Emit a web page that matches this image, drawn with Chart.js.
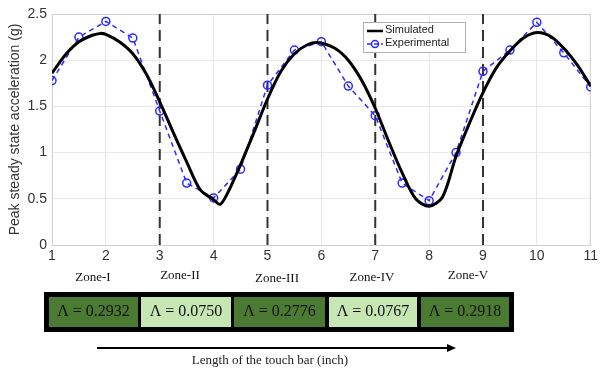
<!DOCTYPE html>
<html>
<head>
<meta charset="utf-8">
<script src="https://cdn.jsdelivr.net/npm/chart.js@4"></script>
<style>
  body { margin: 0; background: #fff; }
  #wrap { width: 601px; height: 369px; position: relative; }
</style>
</head>
<body>
<div id="wrap"><canvas id="myChart" width="601" height="369"></canvas></div>
<script>
// simulated curve
var simX = [1, 1.25, 1.5, 1.75, 1.9, 2, 2.25, 2.5, 2.75, 3, 3.25, 3.5, 3.75, 4, 4.12, 4.25, 4.5, 4.75, 5,
            5.25, 5.5, 5.75, 5.95, 6.25, 6.5, 6.75, 7, 7.25, 7.5, 7.75, 8, 8.25, 8.5, 8.75, 9,
            9.25, 9.5, 9.75, 10, 10.25, 10.5, 10.75, 11];
var simY = [1.86, 2.06, 2.20, 2.27, 2.29, 2.28, 2.20, 2.07, 1.85, 1.55, 1.22, 0.90, 0.60, 0.49, 0.44, 0.55, 0.87, 1.22, 1.58,
            1.88, 2.07, 2.17, 2.19, 2.13, 2.00, 1.78, 1.48, 1.12, 0.78, 0.50, 0.42, 0.52, 0.96, 1.32, 1.65,
            1.92, 2.10, 2.24, 2.30, 2.26, 2.13, 1.95, 1.72];

// experimental points
var expX = [1, 1.5, 2, 2.5, 3, 3.5, 4, 4.5, 5, 5.5, 6, 6.5, 7, 7.5, 8, 8.5, 9, 9.5, 10, 10.5, 11];
var expY = [1.78, 2.25, 2.42, 2.24, 1.45, 0.67, 0.51, 0.82, 1.73, 2.11, 2.20, 1.72, 1.40, 0.67, 0.48, 1.00, 1.88, 2.11, 2.41, 2.08, 1.71];

// zone boundaries
var zoneEdges = [3, 5, 7, 9];
var zoneNames = ['Zone-I', 'Zone-II', 'Zone-III', 'Zone-IV', 'Zone-V'];
var zoneLambda = ['0.2932', '0.0750', '0.2776', '0.0767', '0.2918'];
var zoneShade = ['#4b7a32', '#c6e6b3', '#4b7a32', '#c6e6b3', '#4b7a32'];

var yTicks = [0, 0.5, 1, 1.5, 2, 2.5];

function toPts(xs, ys) {
  return xs.map(function(x, i) { return {x: x, y: ys[i]}; });
}

var datasets = [];
datasets.push({
  label: 'Simulated',
  data: toPts(simX, simY),
  borderColor: '#000',
  borderWidth: 3,
  pointRadius: 0,
  showLine: true,
  tension: 0.3
});
datasets.push({
  label: 'Experimental',
  data: toPts(expX, expY),
  borderColor: '#2b2bff',
  borderWidth: 1.5,
  borderDash: [5, 4],
  pointRadius: 4,
  pointBorderWidth: 1.5,
  pointBackgroundColor: 'rgba(0,0,0,0)',
  pointBorderColor: '#2b2bff',
  showLine: true
});
zoneEdges.forEach(function(e) {
  datasets.push({
    label: 'edge',
    data: [{x: e, y: 0}, {x: e, y: 2.5}],
    borderColor: '#333',
    borderWidth: 2,
    borderDash: [11, 6],
    pointRadius: 0,
    showLine: true
  });
});

var extras = {
  id: 'extras',
  beforeDatasetsDraw: function(chart) {
    var a = chart.chartArea, ctx = chart.ctx;
    ctx.save();
    ctx.strokeStyle = '#d0d0d0';
    ctx.lineWidth = 1;
    ctx.strokeRect(a.left + 0.5, a.top + 0.5, a.right - a.left - 1, a.bottom - a.top);
    ctx.restore();
  },
  afterDraw: function(chart) {
    var ctx = chart.ctx;
    ctx.save();
    // legend box
    ctx.fillStyle = '#fff';
    ctx.fillRect(363, 22, 103, 30);
    ctx.strokeStyle = '#b0b0b0';
    ctx.lineWidth = 1;
    ctx.strokeRect(363.5, 22.5, 102, 30);
    ctx.strokeStyle = '#000';
    ctx.lineWidth = 2.5;
    ctx.beginPath(); ctx.moveTo(367, 31); ctx.lineTo(383, 31); ctx.stroke();
    ctx.strokeStyle = '#2b2bff';
    ctx.lineWidth = 1.5;
    ctx.setLineDash([4, 3]);
    ctx.beginPath(); ctx.moveTo(367, 44); ctx.lineTo(383, 44); ctx.stroke();
    ctx.setLineDash([]);
    ctx.beginPath(); ctx.arc(375, 44, 3.5, 0, Math.PI * 2); ctx.stroke();
    ctx.fillStyle = '#222';
    ctx.font = '11px "Liberation Sans", Arial, sans-serif';
    ctx.textBaseline = 'middle';
    ctx.textAlign = 'left';
    ctx.fillText('Simulated', 385, 30);
    ctx.fillText('Experimental', 385, 43);

    // zone labels
    var zoneX = [93, 180, 277, 372, 468];
    var zoneY = [278, 276, 279, 278, 276];
    ctx.fillStyle = '#111';
    ctx.font = '13px "Liberation Serif", "DejaVu Serif", serif';
    ctx.textAlign = 'center';
    zoneNames.forEach(function(n, i) { ctx.fillText(n, zoneX[i], zoneY[i]); });

    // lambda table
    ctx.fillStyle = '#000';
    ctx.fillRect(44, 292, 470, 40);
    var cellL = [49, 141, 234, 329, 421];
    var cellW = [89, 90, 91, 88, 88];
    ctx.font = '16px "Liberation Serif", "DejaVu Serif", serif';
    zoneLambda.forEach(function(v, i) {
      ctx.fillStyle = zoneShade[i];
      ctx.fillRect(cellL[i], 297, cellW[i], 30);
      ctx.fillStyle = '#111';
      ctx.fillText('\u039B = ' + v, cellL[i] + cellW[i] / 2, 312);
    });

    // arrow
    ctx.strokeStyle = '#000';
    ctx.lineWidth = 2;
    ctx.beginPath(); ctx.moveTo(97, 348); ctx.lineTo(450, 348); ctx.stroke();
    ctx.fillStyle = '#000';
    ctx.beginPath(); ctx.moveTo(456, 348); ctx.lineTo(447, 344); ctx.lineTo(447, 352); ctx.closePath(); ctx.fill();
    ctx.fillStyle = '#222';
    ctx.font = '13px "Liberation Serif", "DejaVu Serif", serif';
    ctx.fillText('Length of the touch bar (inch)', 270, 361);
    ctx.restore();
  }
};

var ctx = document.getElementById('myChart').getContext('2d');
var chart = new Chart(ctx, {
  type: 'scatter',
  data: { datasets: datasets },
  plugins: [extras],
  options: {
    responsive: false,
    animation: false,
    layout: { padding: { top: 14, right: 8, bottom: 102, left: 7 } },
    plugins: { legend: { display: false }, tooltip: { enabled: false } },
    scales: {
      x: {
        type: 'linear', min: 1, max: 11,
        ticks: { stepSize: 1, color: '#333', font: { size: 14, family: 'Liberation Sans' }, padding: 3 },
        grid: { color: '#e8e8e8', tickLength: 0 },
        border: { color: '#b0b0b0' },
        afterFit: function(s) { s.height = 22; }
      },
      y: {
        min: 0, max: 2.5,
        afterBuildTicks: function(s) { s.ticks = yTicks.map(function(v) { return {value: v}; }); },
        ticks: { color: '#333', font: { size: 14, family: 'Liberation Sans' }, padding: 5,
                 callback: function(v) { return String(v); } },
        grid: { color: '#e8e8e8', tickLength: 0 },
        border: { color: '#b0b0b0' },
        title: { display: true, text: 'Peak steady state acceleration (g)', color: '#333',
                 font: { size: 14, family: 'Liberation Sans' }, padding: 0 },
        afterFit: function(s) { s.width = 45; }
      }
    }
  }
});
</script>
</body>
</html>
